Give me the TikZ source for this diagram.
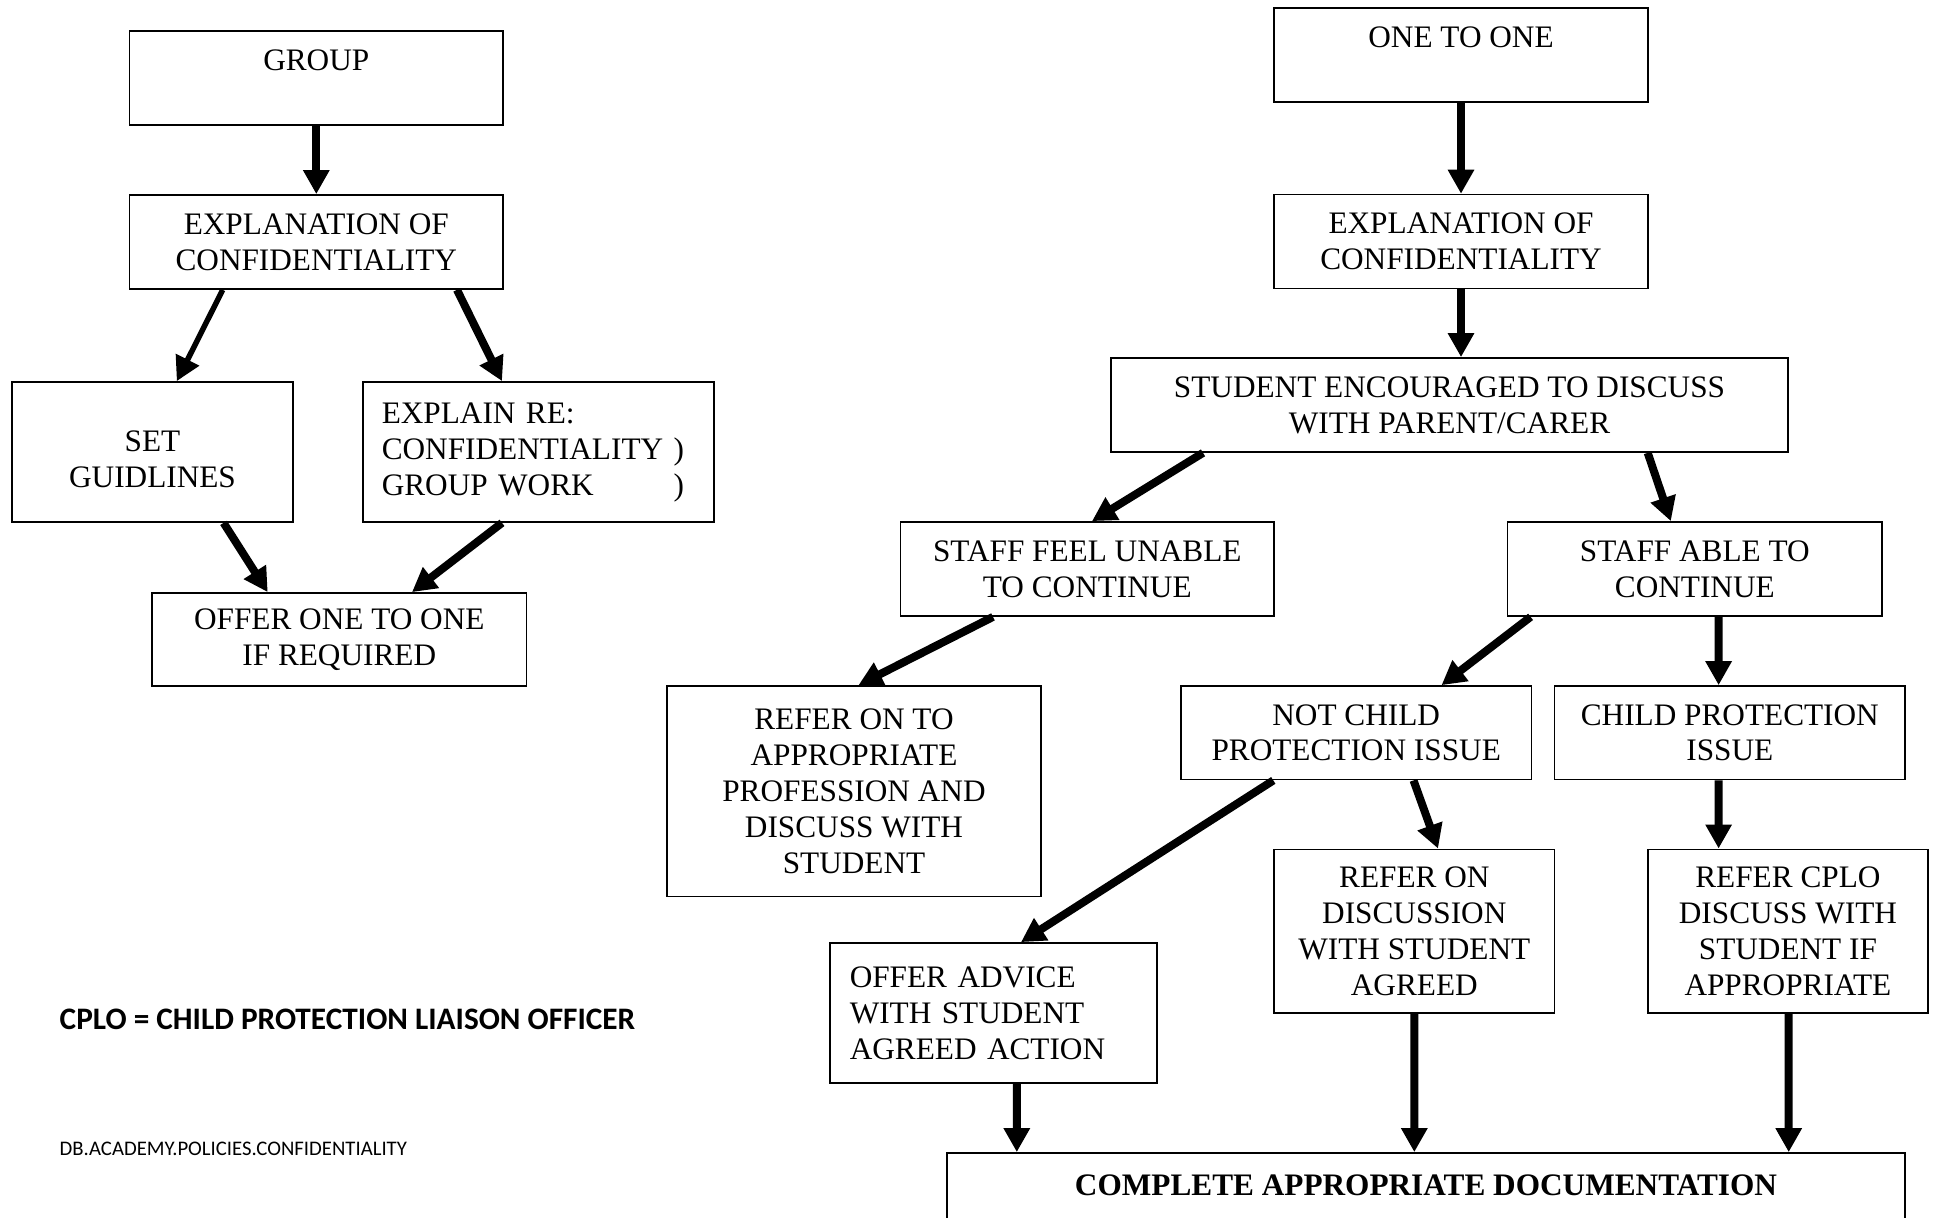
\documentclass[tikz,border=0pt]{standalone}
\usepackage{fontspec}
\setmainfont{Liberation Serif}
\newfontfamily\calibri{Carlito}
\usetikzlibrary{arrows.meta}

\begin{document}
\begin{tikzpicture}[x=0.1mm,y=-0.1mm,
		Box/.style={draw, line width=0.5pt, inner sep=0pt, align=center, font=\fontsize{8.9pt}{10.2pt}\selectfont},
		Flow/.style={line width=0.8mm, -{Triangle[length=2.4mm,width=2.5mm]}},
		FlowThin/.style={Flow, line width=0.55mm}]
	\useasboundingbox (0,0) rectangle (1933,1218);
	\clip (0,0) rectangle (1933,1218);
	% group side
		\node[Box, minimum width=37.35mm, minimum height=9.37mm] (group) at (316.3,78.2) {GROUP\\\mbox{}};
		\node[Box, minimum width=37.35mm, minimum height=9.4mm] (explA) at (316.3,242) {EXPLANATION OF\\CONFIDENTIALITY};
		\node[Box, minimum width=28.1mm, minimum height=14mm] (rules) at (152.5,452) {\mbox{}\\SET\\GUIDLINES};
		\node[Box, align=left, text width=31.33mm, inner xsep=1.9mm, minimum height=14mm] (explain) at (538.4,452)
			{\begin{tabular}{@{}l@{\ }l@{}}EXPLAIN RE: & \\ CONFIDENTIALITY & )\\ GROUP WORK & )\end{tabular}};
		\node[Box, minimum width=37.46mm, minimum height=9.3mm] (offerA) at (339.3,639.5) {OFFER ONE TO ONE\\IF REQUIRED};
	% one to one side
		\node[Box, minimum width=37.4mm, minimum height=9.4mm] (one) at (1461,55) {ONE TO ONE\\\mbox{}};
		\node[Box, minimum width=37.4mm, minimum height=9.4mm] (explB) at (1461,241.6) {EXPLANATION OF\\CONFIDENTIALITY};
		\node[Box, minimum width=67.7mm, minimum height=9.4mm] (parent) at (1449.5,405) {STUDENT ENCOURAGED TO DISCUSS\\WITH PARENT/CARER};
		\node[Box, minimum width=37.34mm, minimum height=9.4mm] (unable) at (1087.3,569) {STAFF FEEL UNABLE\\TO CONTINUE};
		\node[Box, minimum width=37.45mm, minimum height=9.4mm] (able) at (1694.8,569) {STAFF ABLE TO\\CONTINUE};
		\node[Box, minimum width=37.4mm, minimum height=21.06mm] (referout) at (854,791.3) {REFER ON TO\\APPROPRIATE\\PROFESSION AND\\DISCUSS WITH\\STUDENT};
		\node[Box, minimum width=35.04mm, minimum height=9.35mm] (notcp) at (1356.2,732.8) {NOT CHILD\\PROTECTION ISSUE};
		\node[Box, minimum width=35.05mm, minimum height=9.35mm] (cp) at (1729.8,732.8) {CHILD PROTECTION\\ISSUE};
		\node[Box, minimum width=28.05mm, minimum height=16.38mm] (referon) at (1414.3,931.3) {REFER ON\\DISCUSSION\\WITH STUDENT\\AGREED};
		\node[Box, minimum width=28.03mm, minimum height=16.38mm] (cplo) at (1787.9,931.3) {REFER CPLO\\DISCUSS WITH\\STUDENT IF\\APPROPRIATE};
		\node[Box, align=left, text width=28.73mm, inner xsep=2mm, minimum height=14mm] (advice) at (993.4,1013) {OFFER ADVICE\\WITH STUDENT\\AGREED ACTION};
		\node[Box, minimum width=95.8mm, minimum height=10mm] (docs) at (1426,1203) {\textbf{COMPLETE APPROPRIATE DOCUMENTATION}\\\mbox{}};
	% notes
		\node[anchor=west, inner sep=0pt, font=\calibri\bfseries\fontsize{8.9pt}{10pt}\selectfont] (key) at (59,1019.5) {CPLO = CHILD PROTECTION LIAISON OFFICER};
		\node[anchor=west, inner sep=0pt, font=\calibri\fontsize{5.9pt}{7pt}\selectfont] (docref) at (59,1149) {DB.ACADEMY.POLICIES.CONFIDENTIALITY};
	% arrows
		\draw[Flow] (group) -- (explA);
		\draw[FlowThin] ([xshift=-9.36mm]explA.south) -- ([xshift=2.43mm]rules.north);
		\draw[Flow] ([xshift=14.07mm]explA.south) -- ([xshift=-3.64mm]explain.north);
		\draw[Flow] ([xshift=7.11mm]rules.south) -- ([xshift=-7.16mm]offerA.north);
		\draw[Flow] ([xshift=-3.64mm]explain.south) -- ([xshift=7.27mm]offerA.north);
		\draw[Flow] (one) -- (explB);
		\draw[Flow] (explB.south) -- (explB.south |- parent.north);
		\draw[Flow] ([xshift=-24.65mm]parent.south) -- ([xshift=0.47mm]unable.north);
		\draw[Flow] ([xshift=19.82mm]parent.south) -- ([xshift=-2.4mm]able.north);
		\draw[Flow] ([xshift=-9.43mm]unable.south) -- ([xshift=0.45mm]referout.north);
		\draw[Flow] ([xshift=-16.42mm]able.south) -- ([xshift=8.53mm]notcp.north);
		\draw[Flow] ([xshift=2.38mm]able.south) -- ([xshift=-1.12mm]cp.north);
		\draw[Flow] ([xshift=-8.29mm]notcp.south) -- ([xshift=2.76mm]advice.north);
		\draw[Flow] ([xshift=5.73mm]notcp.south) -- ([xshift=2.37mm]referon.north);
		\draw[Flow] ([xshift=-1.12mm]cp.south) -- ([xshift=-6.93mm]cplo.north);
		\draw[Flow] ([xshift=2.34mm]advice.south) -- ([xshift=-40.92mm]docs.north);
		\draw[Flow] (referon.south) -- ([xshift=-1.17mm]docs.north);
	%	\draw[Flow] (cplo) -- (docs);
		\draw[Flow] ([xshift=0.08mm]cplo.south) -- ([xshift=36.27mm]docs.north);
\end{tikzpicture}
\end{document}
